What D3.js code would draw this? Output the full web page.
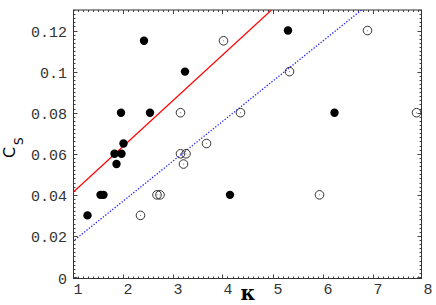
<!DOCTYPE html>
<html>
<head>
<meta charset="utf-8">
<script src="https://cdn.jsdelivr.net/npm/d3@7"></script>
<style>
  html, body { margin: 0; padding: 0; background: #fff; }
  svg { display: block; }
</style>
</head>
<body>
<svg id="chart" width="436" height="305"></svg>
<script>
// ---- data ----
const filledX = [1.30, 1.56, 1.62, 1.88, 1.84, 1.98, 1.97, 2.02, 2.43, 2.55, 3.25, 4.15, 5.31, 6.24];
const filledY = [0.030, 0.040, 0.040, 0.055, 0.060, 0.060, 0.080, 0.065, 0.115, 0.080, 0.100, 0.040, 0.120, 0.080];
const openX = [2.36, 2.69, 2.75, 3.16, 3.16, 3.27, 3.22, 3.68, 4.02, 4.36, 5.34, 5.94, 6.90, 7.88];
const openY = [0.030, 0.040, 0.040, 0.080, 0.060, 0.060, 0.055, 0.065, 0.115, 0.080, 0.100, 0.040, 0.120, 0.080];
const redLine = [[1.0, 0.041], [4.98, 0.130]];
const blueLine = [[1.0, 0.0172], [6.78, 0.130]];
const xTicks = [1, 2, 3, 4, 5, 6, 7, 8];
const yTicks = [0, 0.02, 0.04, 0.06, 0.08, 0.1, 0.12];
const yTickLabels = ["0", "0.02", "0.04", "0.06", "0.08", "0.1", "0.12"];

// ---- layout ----
const svg = d3.select("#chart");
const L = 73.5, R = 421.5, T = 10, B = 278.5;
const x = d3.scaleLinear().domain([1, 8]).range([72.5, 422.5]);
const y = d3.scaleLinear().domain([0, 0.13]).range([277, 10]);

const defs = svg.append("defs");
defs.append("clipPath").attr("id", "clip")
  .append("rect").attr("x", L).attr("y", T).attr("width", R - L).attr("height", B - T);

// minor ticks
const xMinor = d3.range(1, 8.001, 0.1);
const yMinor = d3.range(0, 0.1301, 0.002);
const tk = svg.append("g").attr("stroke", "#444").attr("stroke-width", 1);
xMinor.forEach(v => {
  const isMajor = Math.abs(v - Math.round(v)) < 1e-6;
  const len = isMajor ? 4 : 2;
  const px = Math.round(x(v)) + 0.5;
  if (px < L - 0.1 || px > R + 0.1) return;
  tk.append("line").attr("x1", px).attr("x2", px).attr("y1", B).attr("y2", B - len);
  tk.append("line").attr("x1", px).attr("x2", px).attr("y1", T).attr("y2", T + len);
});
yMinor.forEach(v => {
  const isMajor = Math.abs(v * 50 - Math.round(v * 50)) < 1e-6;
  const len = isMajor ? 4 : 2;
  const py = Math.round(y(v)) + 0.5;
  if (py < T - 0.1 || py > B + 0.1) return;
  tk.append("line").attr("x1", L).attr("x2", L + len).attr("y1", py).attr("y2", py);
  tk.append("line").attr("x1", R).attr("x2", R - len).attr("y1", py).attr("y2", py);
});

// frame
svg.append("rect").attr("x", L).attr("y", T).attr("width", R - L).attr("height", B - T)
  .attr("fill", "none").attr("stroke", "#333").attr("stroke-width", 1);

// tick labels
const lab = svg.append("g").attr("font-family", "'Liberation Mono', 'DejaVu Sans Mono', monospace")
  .attr("font-size", 15).attr("fill", "#333");
xTicks.forEach(v => {
  lab.append("text").attr("x", x(v) + 5.5).attr("y", 294).attr("text-anchor", "middle").text(String(v));
});
yTicks.forEach((v, i) => {
  lab.append("text").attr("x", 67).attr("y", y(v) + 6.5).attr("text-anchor", "end").text(yTickLabels[i]);
});

// fit lines
const line = d3.line().x(d => x(d[0])).y(d => y(d[1]));
const plot = svg.append("g").attr("clip-path", "url(#clip)");
plot.append("path").datum(redLine).attr("d", line)
  .attr("fill", "none").attr("stroke", "#ff0000").attr("stroke-width", 1.2);
plot.append("path").datum(blueLine).attr("d", line)
  .attr("fill", "none").attr("stroke", "#2020ff").attr("stroke-width", 1.3)
  .attr("stroke-dasharray", "1.3,1.7");

// open circles
openX.forEach((v, i) => {
  plot.append("circle").attr("cx", x(v)).attr("cy", y(openY[i])).attr("r", 4.3)
    .attr("fill", "none").attr("stroke", "#333").attr("stroke-width", 1);
  plot.append("circle").attr("cx", x(v)).attr("cy", y(openY[i])).attr("r", 0.6)
    .attr("fill", "#888");
});
// filled circles
filledX.forEach((v, i) => {
  plot.append("circle").attr("cx", x(v)).attr("cy", y(filledY[i])).attr("r", 4.2)
    .attr("fill", "#000");
});

// axis titles
const yt = svg.append("g").attr("transform", "translate(15,158) rotate(-90)");
yt.append("text").attr("x", 0).attr("y", 0)
  .attr("font-family", "'DejaVu Sans', sans-serif").attr("font-size", 16).attr("fill", "#000")
  .text("C");
yt.append("text").attr("x", 13).attr("y", 8)
  .attr("font-family", "'DejaVu Sans', sans-serif").attr("font-size", 12).attr("fill", "#000")
  .text("S");
svg.append("text").attr("x", 248).attr("y", 300).attr("text-anchor", "middle")
  .attr("font-family", "'DejaVu Serif', serif").attr("font-weight", "bold").attr("font-size", 20)
  .attr("fill", "#000").text("κ");
</script>
</body>
</html>
